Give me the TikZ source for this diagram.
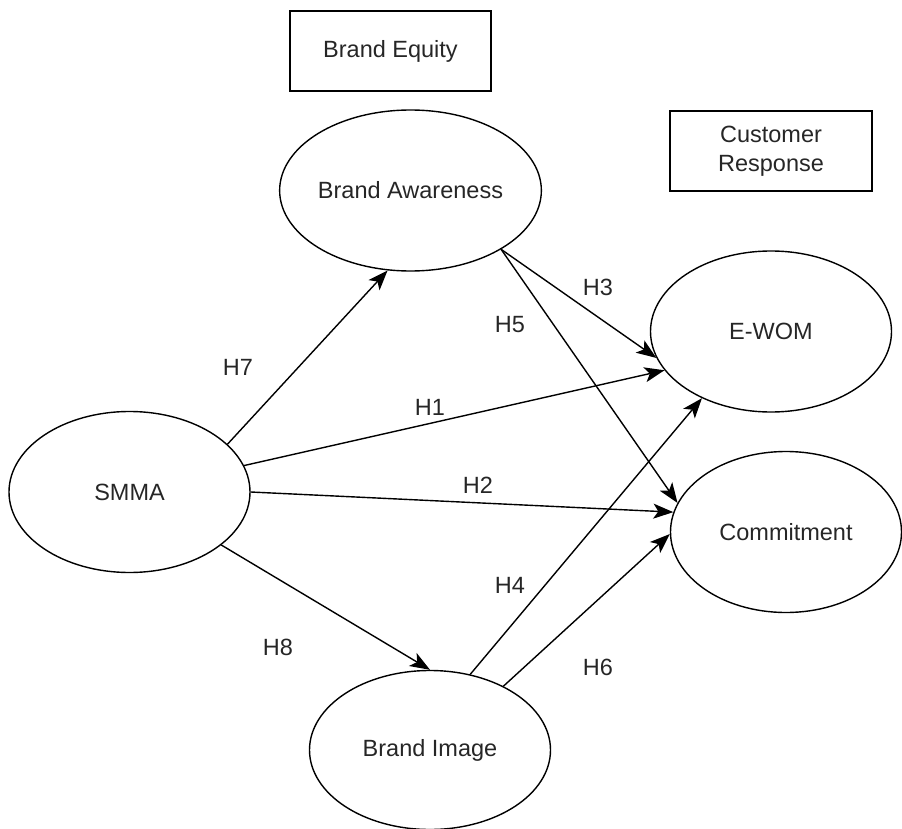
\documentclass[tikz,border=0pt]{standalone}
\usepackage{fontspec}
\setmainfont{Liberation Sans}
\usetikzlibrary{shapes.geometric,arrows.meta}
\begin{document}
\begin{tikzpicture}[x=1pt,y=-1pt,
  every node/.style={font=\fontsize{23.5}{29}\selectfont, text=black!85},
  oval/.style={draw, line width=1.4pt, ellipse, minimum width=241pt, minimum height=161pt, inner sep=0pt},
  titlebox/.style={draw, line width=1.4pt, rectangle, minimum width=201pt, minimum height=80pt, inner sep=0pt, align=center},
  link/.style={draw, line width=1.4pt, -{Stealth[length=20pt,width=15pt,inset=5pt]}},
  hyp/.style={inner sep=0pt}
]
\useasboundingbox (0,0) rectangle (902,829);
\begin{scope}
\clip (0,0) rectangle (902,829);
\node[titlebox] (equity) at (390.5,51) {Brand Equity};
\node[titlebox, minimum width=202pt] (resp) at (771,151) {Customer\\Response};

\node[oval] (aware) at (410.5,190.5) {Brand Awareness};
\node[oval] (ewom) at (771,331.5) {E-WOM};
\node[oval] (smma) at (129.5,492) {SMMA};
\node[oval, minimum width=231pt] (commit) at (786,532) {Commitment};
\node[oval, minimum height=159pt] (image) at (430,750) {Brand Image};

\draw[link] (smma.26) -- (aware.-106);
\draw[link] (smma.13.2) -- (ewom.200.4);
\draw[link] (smma.0) -- (commit.170);
\draw[link] (smma.-30.4) -- (image.90);
\draw[link] (aware.-33.2) -- (ewom.193.2);
\draw[link] (aware.-33.2) -- (commit.165.3);
\draw[link] (image.62.6) -- (ewom.224.4);
\draw[link] (image.41.7) -- (commit.181.5);

\node[hyp] (h7) at (238,367) {H7};
\node[hyp] (h1) at (430,407) {H1};
\node[hyp] (h2) at (478,485) {H2};
\node[hyp] (h3) at (598,287) {H3};
\node[hyp] (h5) at (510,325) {H5};
\node[hyp] (h8) at (278,647) {H8};
\node[hyp] (h4) at (510,585) {H4};
\node[hyp] (h6) at (598,667) {H6};
\end{scope}
\end{tikzpicture}
\end{document}
